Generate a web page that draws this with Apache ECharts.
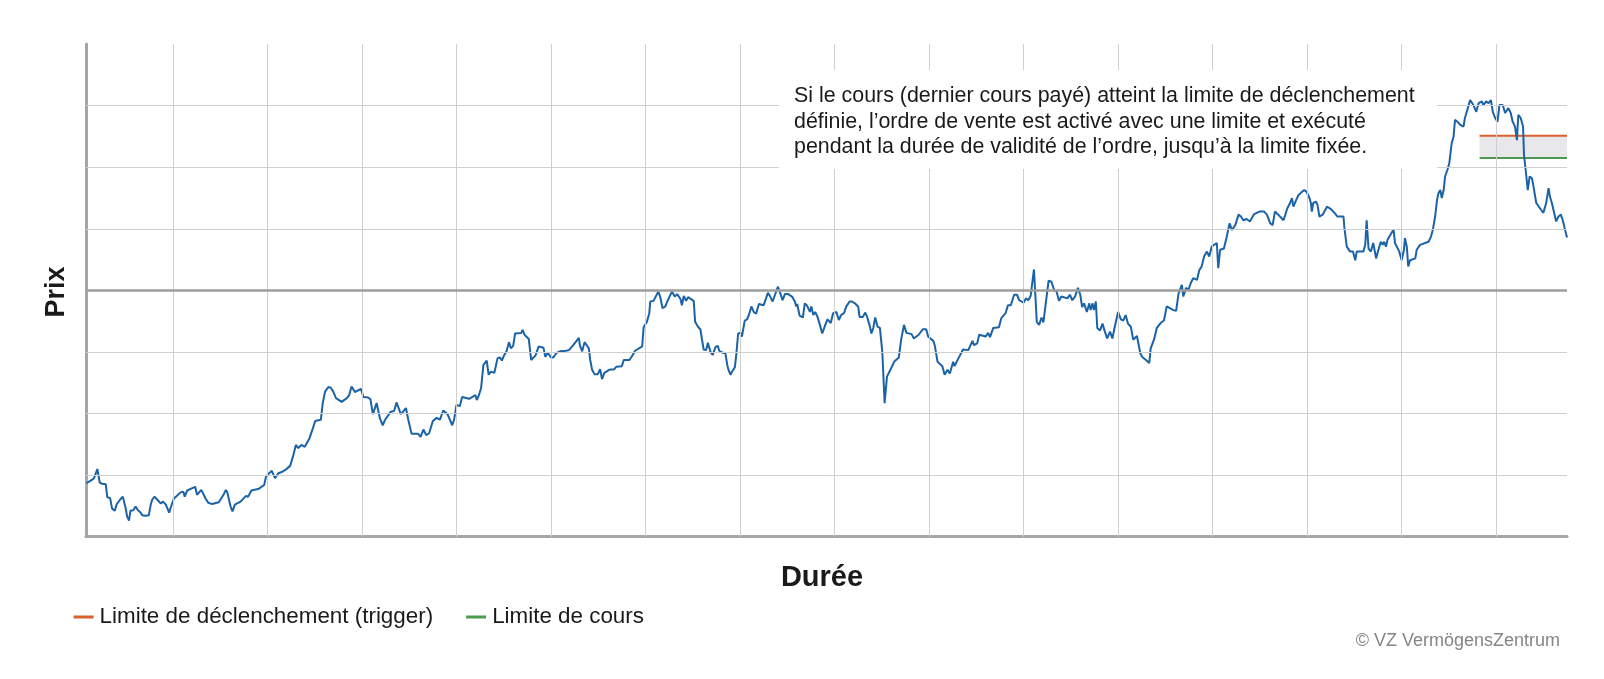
<!DOCTYPE html>
<html>
<head>
<meta charset="utf-8">
<script src="https://cdn.jsdelivr.net/npm/echarts@6/dist/echarts.min.js"></script>
<style>
html,body{margin:0;padding:0;background:#fff;}
#c{width:1604px;height:679px;}
</style>
</head>
<body>
<div id="c"></div>
<script>
// ---- data (x: Durée in days, y: Prix) ----
const days = [
-18.3,-17.4,-16.7,-16.0,-15.5,-15.0,-14.2,-13.9,-13.3,-12.9,-12.3,-11.9,-11.2,-10.6,-10.0,-9.7,-9.3,-9.0,-8.4,-7.9,-7.4,-6.8,-6.5,-5.8,-5.1,-4.7,-4.4,-3.9,-3.3,-2.6,-2.1,-1.5,-0.8,-0.4,
0.2,0.8,1.6,2.2,2.5,3.0,4.1,4.7,5.1,6.0,6.9,7.5,8.3,9.7,10.7,11.2,11.5,12.2,12.6,13.1,14.3,15.4,15.9,16.6,17.0,18.2,19.3,
19.7,20.9,21.6,22.3,23.0,23.7,24.8,25.5,26.0,26.5,27.2,27.9,28.9,29.6,30.1,31.3,31.7,32.2,32.9,33.4,33.9,34.5,35.7,36.8,37.3,37.8,38.5,39.8,40.3,41.3,41.8,42.3,43.1,43.8,44.4,44.9,46.1,46.8,47.3,47.9,48.2,48.7,49.3,49.8,50.5,51.9,52.4,53.0,53.6,54.2,55.0,55.8,56.5,
57.2,58.1,59.1,59.5,60.0,60.7,61.2,62.7,64.0,64.3,64.7,65.2,65.7,66.4,66.8,67.3,68.0,68.7,69.2,69.6,70.1,70.6,71.1,71.5,72.0,72.4,73.7,74.0,74.4,75.3,75.8,76.7,77.4,78.4,78.8,79.3,80.0,80.5,81.1,81.4,81.9,83.2,83.8,84.2,84.7,85.9,86.1,86.6,87.1,88.0,88.3,88.7,89.2,89.9,90.4,90.8,91.3,92.3,93.4,93.8,
94.0,95.0,95.4,96.6,97.3,97.8,99.3,99.6,100.3,100.8,101.0,101.7,102.1,102.7,103.1,103.6,104.2,104.6,105.0,105.6,106.2,106.7,107.4,107.7,108.1,108.6,109.0,110.2,110.5,111.1,111.6,112.3,112.8,113.2,113.7,114.2,114.8,115.3,115.6,116.2,116.9,117.3,117.6,118.0,118.3,118.9,119.2,119.6,120.1,120.4,121.0,121.5,122.0,122.4,122.9,123.4,124.0,125.0,125.5,125.9,126.4,126.9,127.5,128.0,128.5,129.0,129.5,130.2,131.0,
131.6,131.9,132.1,132.6,133.3,133.7,134.2,134.8,135.1,135.5,135.9,136.4,136.9,137.4,137.9,138.5,139.2,139.7,140.4,140.9,141.4,142.0,142.5,143.2,143.7,144.3,144.6,145.0,145.3,146.0,146.5,146.9,147.5,147.8,148.2,148.6,149.1,149.6,150.1,150.6,151.1,151.5,152.0,152.6,153.6,154.1,154.7,155.2,156.3,156.8,157.8,158.7,159.4,159.8,160.9,161.2,161.8,162.8,163.3,163.9,164.4,165.1,165.4,166.1,167.2,168.3,
169.2,169.5,170.2,170.6,172.0,172.5,172.9,173.6,174.8,175.3,175.7,176.2,176.7,177.3,178.0,178.6,179.1,179.5,180.0,180.5,181.0,181.5,182.2,182.8,183.3,183.8,184.2,184.7,185.3,185.9,186.5,187.0,187.5,188.0,189.3,189.8,190.3,190.9,191.5,192.0,192.4,192.8,193.4,193.9,194.2,194.6,194.9,195.3,195.6,196.2,196.7,197.2,197.7,198.3,198.8,199.3,200.0,200.6,201.1,201.6,202.1,202.7,203.2,204.0,204.7,205.1,205.9,206.6,206.9,207.6,208.2,209.0,209.7,
210.3,211.7,212.3,212.8,213.5,213.8,214.4,214.9,215.4,215.9,216.7,217.2,217.7,218.2,218.8,219.3,219.8,220.9,221.2,221.6,222.4,223.0,223.6,224.1,224.8,225.5,226.0,226.5,227.2,227.9,228.8,229.9,230.9,231.5,232.2,232.7,233.2,233.9,235.0,235.4,235.8,236.4,236.8,237.1,237.7,238.2,238.9,239.4,239.9,240.5,240.8,241.0,241.3,241.9,242.2,242.6,243.3,244.2,244.9,245.9,246.4,247.7,247.9,248.4,249.1,249.7,250.2,250.5,251.9,252.3,252.6,253.0,253.5,254.0,254.6,255.1,255.6,256.0,256.3,256.7,257.0,257.6,258.3,258.6,259.0,259.5,260.0,260.5,260.7,261.1,261.4,261.8,262.9,263.2,263.9,265.7,266.2,266.6,267.1,267.5,267.8,268.2,268.5,268.9,269.2,269.7,270.1,270.6,271.0,271.3,271.8,272.4,272.7,273.1,273.4,273.9,274.5,275.2,275.8,276.3,277.0,277.3,277.9,278.4,278.9,279.3,279.8,280.3,280.7,281.4,281.9,282.6,283.1,283.5,284.0,284.4,284.7,285.2,285.7,285.9,286.4,286.7,287.1,287.6,287.9,288.5,289.5,290.0,290.6,291.1,291.4,291.8,292.1,292.7,293.2,293.7,294.1,294.6,295.0
];
const prices = [
8.7,9.1,9.5,11.0,8.8,8.6,8.5,6.4,6.3,4.6,4.2,5.3,6.0,6.5,4.6,3.3,2.6,4.2,4.3,4.9,4.3,3.9,3.5,3.4,3.5,5.2,6.0,6.5,6.0,5.4,5.7,5.2,3.9,4.9,
6.2,6.6,7.2,7.3,6.5,7.5,7.9,8.1,6.8,7.6,6.2,5.5,5.3,5.6,6.8,7.6,7.2,4.9,4.1,5.2,5.7,6.6,6.5,7.5,7.3,7.8,8.4,
9.8,10.7,9.5,10.3,10.5,10.8,11.5,13.3,14.9,14.4,14.9,14.6,16.0,17.6,18.8,19.0,21.7,23.6,24.3,24.2,23.6,22.5,21.9,22.5,23.0,24.4,23.5,24.0,22.7,22.6,22.3,19.9,21.7,19.2,18.1,19.0,20.3,20.4,21.8,20.6,19.9,20.3,20.9,19.0,16.7,16.7,16.2,17.4,16.5,16.8,18.8,19.3,19.0,
20.5,19.9,18.1,19.0,21.4,21.2,22.7,22.4,23.0,22.2,22.9,24.1,27.9,28.6,26.3,26.8,26.6,29.0,29.1,28.6,29.5,30.1,31.6,30.6,31.0,33.0,33.1,33.6,32.8,32.1,28.7,29.4,30.9,30.7,29.2,29.9,29.1,29.1,29.8,29.5,30.1,30.2,30.3,30.2,31.1,32.3,31.1,30.1,31.6,30.6,28.7,27.1,26.4,26.4,27.2,25.6,26.6,27.1,27.2,27.6,
27.7,27.7,28.7,28.7,29.5,30.2,30.9,34.0,34.9,36.3,38.2,38.3,38.6,39.8,39.0,37.1,37.4,38.2,37.9,39.8,39.0,39.4,38.6,37.6,39.1,38.3,38.9,38.3,34.9,34.1,33.7,30.4,30.3,31.5,30.1,29.5,30.8,31.0,30.2,29.9,29.8,27.9,27.0,26.3,26.8,27.5,29.5,33.0,33.1,32.5,35.1,35.3,36.3,37.4,36.5,36.2,37.8,37.6,38.7,39.6,39.0,38.2,39.5,40.6,39.6,38.4,39.4,39.4,39.0,
38.2,37.4,37.8,35.9,35.6,37.9,37.5,36.5,37.4,36.0,36.5,35.7,34.4,33.0,34.1,35.3,34.7,36.3,36.5,35.2,36.0,36.3,37.4,38.2,38.2,37.9,38.0,37.4,35.7,35.7,36.4,35.7,34.1,33.0,33.9,35.6,34.1,33.9,30.1,21.7,26.0,26.3,27.4,28.4,29.1,32.0,34.4,33.1,32.9,32.2,32.8,33.7,33.7,32.5,31.8,31.1,28.4,27.7,26.3,27.1,26.5,28.4,27.7,28.8,30.4,30.3,
31.8,31.1,31.4,32.8,32.5,33.1,32.4,33.9,34.0,35.5,35.3,36.3,37.6,37.6,39.3,39.3,38.4,38.7,38.0,38.7,38.4,39.1,43.4,34.9,34.4,35.6,34.8,37.9,41.6,41.4,40.0,39.8,38.3,39.0,38.7,39.3,38.4,39.0,40.4,39.3,37.3,37.9,36.5,37.9,36.8,37.9,36.8,38.2,33.9,33.5,34.6,33.3,32.2,33.3,32.2,34.1,36.5,35.3,35.1,36.0,34.6,34.1,32.0,32.6,29.8,29.2,28.7,28.2,30.6,32.0,33.9,34.7,35.1,
37.4,36.8,36.7,39.5,40.9,39.0,40.4,40.1,41.2,42.0,41.7,43.3,43.9,45.5,46.3,45.5,47.1,47.7,43.6,46.6,46.8,48.7,50.9,49.8,50.6,52.3,52.0,51.4,51.6,51.2,52.4,52.8,52.8,52.3,50.9,50.6,52.8,52.3,51.4,52.3,53.3,54.2,55.0,53.6,54.7,55.5,56.0,56.3,56.0,55.0,54.2,52.8,54.2,54.4,53.9,52.0,52.3,53.6,53.3,52.5,52.0,52.0,50.1,47.1,46.3,46.3,44.9,46.3,46.3,47.4,51.4,46.8,46.3,47.7,45.2,46.6,47.9,47.4,47.9,47.1,48.2,49.0,49.9,47.7,47.4,46.3,44.9,46.6,48.5,47.1,43.9,44.9,45.2,46.6,47.4,47.9,48.7,49.8,52.0,54.7,55.8,56.3,55.0,56.3,58.5,59.6,60.7,63.9,65.0,67.7,67.4,66.9,67.1,66.6,68.0,69.3,70.9,70.1,69.0,70.4,70.7,70.1,70.7,70.4,70.9,69.0,68.0,67.4,70.1,70.1,68.8,69.6,68.8,67.4,66.6,64.4,68.5,68.0,66.6,62.0,58.5,56.3,58.5,58.2,56.9,54.2,53.1,52.6,54.2,56.6,55.2,54.2,54.0,51.2,52.0,52.3,51.4,49.8,48.6
];
const triggerDays = [276.5, 295];
const triggerLevel = [65.1, 65.1];
const limitDays = [276.5, 295];
const limitLevel = [61.5, 61.5];
const gridDays = [0,20,40,60,80,100,120,140,160,180,200,220,240,260,280];
const gridPrices = [10,20,30,50,60,70];
const midPrice = [40];
const xRange = [-18.4, 295];
const yRange = [0, 80];
const seriesNames = ['Limite de déclenchement (trigger)', 'Limite de cours'];
const annotation = ["Si le cours (dernier cours payé) atteint la limite de déclenchement",
                    "définie, l’ordre de vente est activé avec une limite et exécuté",
                    "pendant la durée de validité de l’ordre, jusqu’à la limite fixée."];
const axisTitles = {x: 'Durée', y: 'Prix'};
const credit = '© VZ VermögensZentrum';

const priceData = days.map((d, i) => [d, prices[i]]);
const trigData = triggerDays.map((d, i) => [d, triggerLevel[i]]);
const limData = limitDays.map((d, i) => [d, limitLevel[i]]);

const FONT = '"Liberation Sans", Arial, sans-serif';
const ORANGE = '#d8602c';
const GREEN = '#4f9a4f';
const BLUE = '#1b62a6';

const chart = echarts.init(document.getElementById('c'));
chart.setOption({
  animation: false,
  backgroundColor: '#ffffff',
  grid: {left: 86, right: 37, top: 44.1, bottom: 142.3},
  xAxis: {
    type: 'value', min: xRange[0], max: xRange[1],
    axisLine: {show: true, onZero: false, lineStyle: {color: '#a6a6a6', width: 3}},
    axisTick: {show: false}, axisLabel: {show: false}, splitLine: {show: false}
  },
  yAxis: {
    type: 'value', min: yRange[0], max: yRange[1], interval: 10,
    axisLine: {show: true, onZero: false, lineStyle: {color: '#a6a6a6', width: 3}},
    axisTick: {show: false}, axisLabel: {show: false}, splitLine: {show: false}
  },
  legend: {
    left: 73.6, top: 606, padding: 0, itemWidth: 20, itemHeight: 3, itemGap: 33,
    icon: 'rect', selectedMode: false,
    textStyle: {fontSize: 22.4, fontFamily: FONT, color: '#1a1a1a', padding: [0,0,0,1]},
    data: seriesNames
  },
  series: [
    { // grey band between the two limits
      type: 'line', data: [], z: 1, silent: true,
      markArea: {silent: true, itemStyle: {color: '#e8e8ea'},
        data: [[{xAxis: triggerDays[0], yAxis: limitLevel[0]}, {xAxis: triggerDays[1], yAxis: triggerLevel[0]}]]}
    },
    { // grid lines
      type: 'line', data: [], z: 2, silent: true,
      markLine: {
        silent: true, symbol: ['none', 'none'], label: {show: false}, animation: false,
        lineStyle: {type: 'solid', color: '#cfcfcf', width: 1},
        data: gridDays.map(v => ({xAxis: v})).concat(gridPrices.map(v => ({yAxis: v})))
          .concat(midPrice.map(v => ({yAxis: v, lineStyle: {color: '#9e9e9e', width: 2.5, type: 'solid'}})))
      }
    },
    {
      name: seriesNames[0], type: 'line', data: trigData, z: 3,
      showSymbol: false, symbol: 'none', color: ORANGE,
      lineStyle: {color: ORANGE, width: 2}
    },
    {
      name: seriesNames[1], type: 'line', data: limData, z: 3,
      showSymbol: false, symbol: 'none', color: GREEN,
      lineStyle: {color: GREEN, width: 2}
    },
    {
      name: 'Cours', type: 'line', data: priceData, z: 4,
      showSymbol: false, symbol: 'none', color: BLUE,
      lineStyle: {color: BLUE, width: 2}
    }
  ],
  graphic: [
    {type: 'rect', z: 10, silent: true, shape: {x: 779, y: 70, width: 658, height: 99}, style: {fill: '#ffffff'}},
    {type: 'text', z: 11, silent: true, x: 794, y: 83.5,
      style: {text: annotation.join('\n'), font: '21.4px ' + FONT, lineHeight: 25.5, fill: '#1a1a1a', align: 'left', verticalAlign: 'top'}},
    {type: 'text', z: 11, silent: true, x: 56.7, y: 292, rotation: Math.PI / 2,
      style: {text: axisTitles.y, font: 'bold 27px ' + FONT, fill: '#1a1a1a', align: 'center', verticalAlign: 'middle'}},
    {type: 'text', z: 11, silent: true, x: 822, y: 577.5,
      style: {text: axisTitles.x, font: 'bold 29px ' + FONT, fill: '#1a1a1a', align: 'center', verticalAlign: 'middle'}},
    {type: 'text', z: 11, silent: true, x: 1560, y: 641,
      style: {text: credit, font: '18px ' + FONT, fill: '#858585', align: 'right', verticalAlign: 'middle'}}
  ]
});
</script>
</body>
</html>
